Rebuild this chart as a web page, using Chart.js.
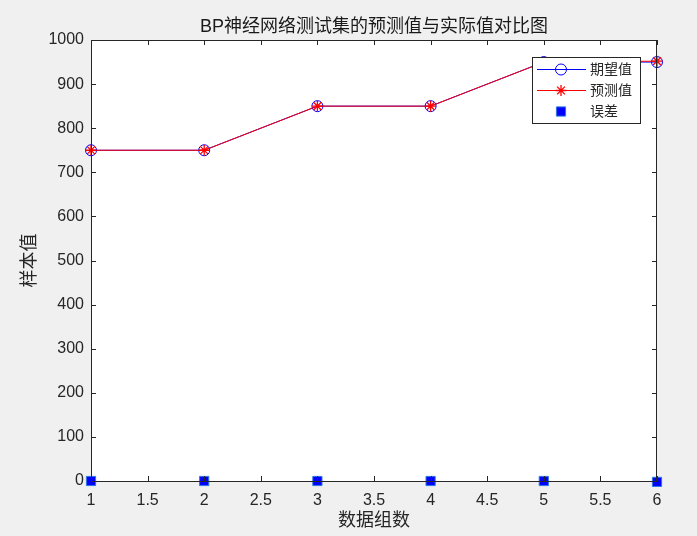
<!DOCTYPE html>
<html><head><meta charset="utf-8">
<script src="https://cdn.jsdelivr.net/npm/chart.js@4.4.0/dist/chart.umd.min.js"></script>
<style>html,body{margin:0;padding:0;background:#f0f0f0;overflow:hidden}#wrap{width:697px;height:536px}</style>
</head><body><div id="wrap"><canvas id="c" width="697" height="536"></canvas></div>
<script>
const groups = [1, 2, 3, 4, 5, 6];
const expected = [750, 750, 850, 850, 950, 950];
const predicted = [750, 750, 850, 850, 950, 952];
const errors = [0, 0, 0, 0, 0, -2];
const titleText = 'BP神经网络测试集的预测值与实际值对比图';
const xTitle = '数据组数';
const yTitle = '样本值';
const seriesNames = ['期望值', '预测值', '误差'];

const AX = '#262626';
const LATIN = '"Liberation Sans", Arial, "Noto Sans CJK SC", sans-serif';
const CJK = '"Liberation Sans", "Noto Sans CJK SC", sans-serif';

const decor = {
  id: 'decor',
  beforeDraw(chart) {
    const {ctx, chartArea: a} = chart;
    ctx.save();
    ctx.fillStyle = '#f0f0f0';
    ctx.fillRect(0, 0, chart.width, chart.height);
    ctx.fillStyle = '#ffffff';
    ctx.fillRect(a.left, a.top, a.right - a.left, a.bottom - a.top);
    ctx.restore();
  },
  afterDatasetsDraw(chart) {
    const {ctx, chartArea: a, scales} = chart;
    ctx.save();
    ctx.strokeStyle = AX;
    ctx.lineWidth = 1;
    ctx.strokeRect(a.left + 0.5, a.top + 0.5, a.right - a.left - 1, a.bottom - a.top);
    ctx.beginPath();
    scales.x.ticks.forEach(t => {
      const px = Math.round(scales.x.getPixelForValue(t.value)) + 0.5;
      ctx.moveTo(px, a.bottom); ctx.lineTo(px, a.bottom - 5);
      ctx.moveTo(px, a.top); ctx.lineTo(px, a.top + 5);
    });
    scales.y.ticks.forEach(t => {
      const py = Math.round(scales.y.getPixelForValue(t.value)) + 0.5;
      ctx.moveTo(a.left, py); ctx.lineTo(a.left + 5, py);
      ctx.moveTo(a.right, py); ctx.lineTo(a.right - 5, py);
    });
    ctx.stroke();
    ctx.restore();
  },
  afterDraw(chart) {
    const {ctx, chartArea: a} = chart;
    ctx.save();
    ctx.fillStyle = '#1a1a1a';
    ctx.textAlign = 'center';
    ctx.textBaseline = 'middle';
    ctx.font = '18px ' + CJK;
    ctx.fillText(titleText, (a.left + a.right) / 2, 27);
    ctx.fillStyle = AX;
    ctx.fillText(xTitle, (a.left + a.right) / 2, 521);
    ctx.save();
    ctx.translate(30, (a.top + a.bottom) / 2);
    ctx.rotate(-Math.PI / 2);
    ctx.fillText(yTitle, 0, 0);
    ctx.restore();

    // legend
    const lx = 532, ly = 57, lw = 108, lh = 66;
    ctx.fillStyle = '#ffffff';
    ctx.fillRect(lx, ly, lw, lh);
    ctx.strokeStyle = AX;
    ctx.lineWidth = 1;
    ctx.strokeRect(lx + 0.5, ly + 0.5, lw, lh);
    const rows = [69, 90, 111];
    chart.data.datasets.forEach((ds, i) => {
      const y = rows[i];
      if (ds.showLine !== false) {
        ctx.strokeStyle = ds.borderColor;
        ctx.lineWidth = 1;
        ctx.beginPath();
        ctx.moveTo(537, y + 0.5); ctx.lineTo(586, y + 0.5);
        ctx.stroke();
      }
      ctx.strokeStyle = ds.pointBorderColor;
      ctx.fillStyle = ds.pointBackgroundColor;
      ctx.lineWidth = ds.pointBorderWidth;
      Chart.helpers.drawPoint(ctx, {pointStyle: ds.pointStyle, radius: ds.pointRadius, borderWidth: ds.pointBorderWidth, rotation: 0}, 561, y + 0.5);
      ctx.fillStyle = AX;
      ctx.textAlign = 'left';
      ctx.font = '14px ' + CJK;
      ctx.fillText(ds.label, 590, y + 1);
    });
    ctx.restore();
  }
};

new Chart(document.getElementById('c'), {
  type: 'line',
  data: {
    datasets: [
      {
        label: seriesNames[0],
        data: groups.map((g, i) => ({x: g, y: expected[i]})),
        borderColor: '#0000ff', borderWidth: 1,
        pointStyle: 'circle', pointRadius: 5.5, pointBorderWidth: 1,
        pointBorderColor: '#0000ff', pointBackgroundColor: 'rgba(0,0,0,0)',
        order: 2, clip: false, tension: 0
      },
      {
        label: seriesNames[1],
        data: groups.map((g, i) => ({x: g, y: predicted[i]})),
        borderColor: '#ff0000', borderWidth: 1,
        pointStyle: 'star', pointRadius: 5.5, pointBorderWidth: 1.3,
        pointBorderColor: '#ff0000', pointBackgroundColor: '#ff0000',
        order: 1, clip: false, tension: 0
      },
      {
        label: seriesNames[2],
        data: groups.map((g, i) => ({x: g, y: errors[i]})),
        showLine: false, borderColor: '#0000ff',
        pointStyle: 'rect', pointRadius: 6.5, pointBorderWidth: 1,
        pointBorderColor: '#2b78e4', pointBackgroundColor: '#0000ff',
        order: 0, clip: false
      }
    ]
  },
  options: {
    responsive: false,
    animation: false,
    devicePixelRatio: 1,
    layout: {padding: {top: 40, right: 40, left: 0, bottom: 0}},
    plugins: {legend: {display: false}, title: {display: false}, tooltip: {enabled: false}},
    scales: {
      x: {
        type: 'linear', min: 1, max: 6,
        afterFit(s) { s.height = 55; },
        grid: {display: false, drawTicks: false},
        border: {display: false},
        ticks: {stepSize: 0.5, color: AX, font: {size: 16, family: LATIN}, padding: 10, maxRotation: 0,
          callback: v => String(v)}
      },
      y: {
        type: 'linear', min: 0, max: 1000,
        afterFit(s) { s.width = 91; },
        grid: {display: false, drawTicks: false},
        border: {display: false},
        ticks: {stepSize: 100, color: AX, font: {size: 16, family: LATIN}, padding: 7,
          callback: v => String(v)}
      }
    }
  },
  plugins: [decor]
});
</script></body></html>
